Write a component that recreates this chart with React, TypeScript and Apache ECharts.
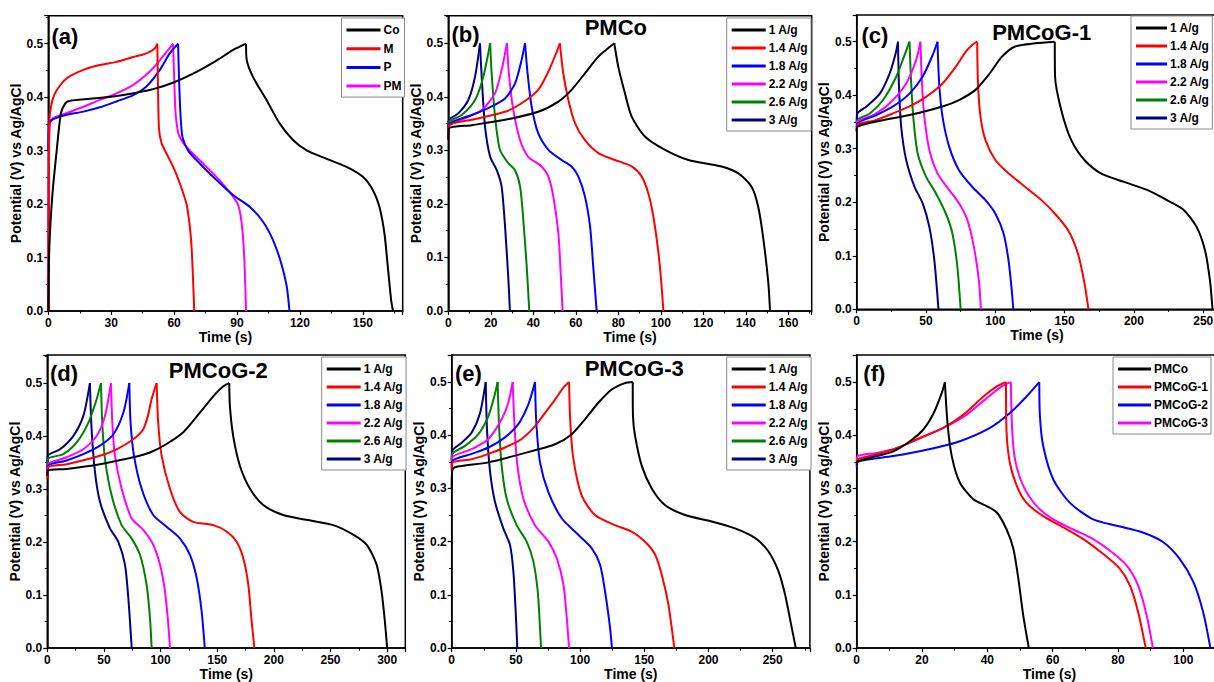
import React, { useEffect, useRef } from "react";
import * as echarts from "echarts";

type Pt = [number, number];

// ---------- Panel (a) ----------
const aCo: Pt[] = [[0,0],[0.5,0.12],[2,0.22],[4,0.3],[6,0.37],[8,0.388],[10,0.393],[20,0.397],[30,0.401],[40,0.407],[50,0.415],[60,0.428],[70,0.446],[80,0.468],[88,0.488],[94.3,0.5],[94.6,0.47],[97.6,0.438],[104,0.395],[110.3,0.351],[116.7,0.32],[123,0.301],[132.5,0.285],[142,0.27],[150,0.251],[154.8,0.226],[157.9,0.195],[160.3,0.145],[161.9,0.083],[163.5,0.02],[164.4,0]];
const aM: Pt[] = [[0,0],[0.15,0.2],[0.4,0.35],[1,0.375],[2,0.395],[4,0.413],[8.7,0.435],[16.7,0.451],[24.6,0.46],[32.5,0.466],[40.5,0.475],[46.8,0.482],[50.8,0.491],[52,0.5],[52.3,0.42],[52.8,0.34],[54,0.314],[56.3,0.295],[59.5,0.27],[62.7,0.239],[65.9,0.2],[67.5,0.158],[68.4,0.114],[69.1,0.052],[69.6,0]];
const aP: Pt[] = [[0,0.3],[0.3,0.35],[2,0.358],[8.7,0.367],[16.7,0.373],[24.6,0.381],[32.5,0.392],[40.5,0.404],[46.8,0.42],[53.2,0.451],[57.9,0.482],[61.9,0.5],[62.3,0.44],[63,0.37],[64,0.325],[66.7,0.3],[72.2,0.276],[80.2,0.245],[88.1,0.217],[96,0.195],[102.4,0.167],[107.1,0.133],[111.1,0.089],[113.7,0.046],[115,0]];
const aPM: Pt[] = [[0,0.02],[0.3,0.3],[1,0.355],[3,0.362],[8.7,0.37],[16.7,0.382],[24.6,0.395],[32.5,0.407],[40.5,0.423],[48.4,0.448],[53.2,0.469],[57.1,0.488],[59.5,0.5],[60,0.44],[60.7,0.37],[62.2,0.33],[65.9,0.307],[72.2,0.282],[80.2,0.251],[88.1,0.214],[90.8,0.195],[92.4,0.158],[93.5,0.095],[94.3,0]];

// ---------- Panel (b) PMCo ----------
const b1: Pt[] = [[0,0.32],[0.3,0.341],[11,0.347],[26.7,0.357],[42.3,0.372],[51.8,0.391],[58,0.413],[64.3,0.444],[70.6,0.475],[75.3,0.491],[78.1,0.5],[80,0.456],[83.1,0.407],[86.3,0.363],[92.5,0.326],[102,0.301],[113,0.282],[128.6,0.27],[136.5,0.257],[142.7,0.232],[145.8,0.195],[148.3,0.133],[150.6,0.052],[151.4,0]];
const b14: Pt[] = [[0,0.32],[0.5,0.347],[11,0.357],[26.7,0.372],[34.5,0.388],[42.3,0.413],[47.1,0.447],[51,0.484],[52.5,0.5],[54.1,0.444],[56.5,0.394],[59.6,0.351],[64.3,0.319],[70.6,0.295],[78.4,0.282],[86.3,0.27],[91,0.251],[94.1,0.22],[96.5,0.176],[98.9,0.108],[100.4,0.045],[101.2,0]];
const b18: Pt[] = [[0,0.335],[0.5,0.35],[11,0.366],[18.8,0.379],[26.7,0.397],[31.4,0.425],[34.5,0.469],[36.1,0.5],[37.3,0.444],[39.2,0.382],[42.3,0.332],[47.1,0.301],[53.3,0.282],[58,0.27],[61.2,0.251],[64.3,0.214],[66.7,0.158],[68.2,0.083],[69.8,0]];
const b22: Pt[] = [[0,0.335],[0.5,0.347],[7.8,0.36],[15.7,0.375],[22,0.407],[25.1,0.45],[27.6,0.5],[28.5,0.444],[30.6,0.375],[33.8,0.319],[37.6,0.288],[43.9,0.27],[47.1,0.251],[49.4,0.214],[51.8,0.145],[52.9,0.07],[53.8,0]];
const b26: Pt[] = [[0,0.34],[0.5,0.354],[6.3,0.366],[12.6,0.394],[16.5,0.438],[19.7,0.5],[20.4,0.444],[22,0.363],[24.3,0.301],[28.2,0.276],[31.4,0.263],[33.8,0.232],[35.3,0.17],[36.9,0.083],[38.1,0]];
const b3: Pt[] = [[0,0.345],[0.3,0.357],[4.7,0.369],[9.4,0.394],[12.6,0.438],[14.9,0.5],[15.7,0.438],[17.3,0.344],[19.7,0.288],[22.8,0.263],[25.1,0.232],[26.7,0.158],[28.2,0.064],[29,0]];

// ---------- Panel (c) PMCoG-1 ----------
const c1: Pt[] = [[0,0.332],[0.5,0.341],[14.3,0.351],[38.1,0.363],[61.9,0.379],[73.8,0.391],[85.7,0.41],[95.2,0.438],[104.8,0.472],[114.3,0.491],[128.6,0.497],[142.9,0.5],[143.1,0.435],[147.6,0.372],[154.8,0.316],[164.3,0.279],[176.2,0.254],[192.9,0.238],[209.5,0.223],[223.8,0.204],[235.7,0.186],[245.2,0.154],[251.2,0.111],[254.8,0.055],[256.7,0]];
const c14: Pt[] = [[0,0.332],[0.5,0.344],[14.3,0.354],[26.2,0.366],[38.1,0.379],[50,0.397],[61.9,0.422],[71.4,0.453],[78.6,0.481],[83.3,0.494],[86.9,0.5],[87.5,0.422],[89.3,0.36],[92.9,0.316],[100,0.279],[109.5,0.254],[121.4,0.229],[133.3,0.204],[142.9,0.179],[152.4,0.148],[159.5,0.105],[164.3,0.049],[167.2,0]];
const c18: Pt[] = [[0,0.335],[0.5,0.347],[14.3,0.363],[26.2,0.379],[38.1,0.403],[47.6,0.435],[54.8,0.475],[58.3,0.5],[59.5,0.422],[61.9,0.36],[66.7,0.304],[73.8,0.26],[83.3,0.229],[92.9,0.204],[100,0.179],[105.9,0.142],[109.5,0.092],[111.7,0.04],[113,0]];
const c22: Pt[] = [[0,0.34],[0.5,0.351],[11.9,0.363],[23.8,0.385],[35.7,0.422],[42.9,0.466],[46,0.5],[47.1,0.422],[48.8,0.36],[52.4,0.298],[58.3,0.254],[66.7,0.223],[73.8,0.198],[79.8,0.167],[84.5,0.117],[88.1,0.055],[89.6,0]];
const c26: Pt[] = [[0,0.345],[0.5,0.354],[9.5,0.366],[19,0.391],[28.6,0.435],[34.5,0.475],[38.1,0.5],[39.3,0.422],[41,0.354],[44,0.291],[50,0.248],[57.1,0.217],[64.3,0.179],[69,0.142],[72.6,0.08],[75,0]];
const c3: Pt[] = [[0,0.35],[0.5,0.366],[7.1,0.379],[16.7,0.403],[23.8,0.441],[28.1,0.478],[29.8,0.5],[30.5,0.416],[32.1,0.341],[35.7,0.279],[41.7,0.229],[47.6,0.198],[52.4,0.154],[56,0.092],[59,0]];

// ---------- Panel (d) PMCoG-2 ----------
const d1: Pt[] = [[0,0.325],[0.5,0.335],[17,0.338],[46.5,0.347],[75.9,0.36],[90.6,0.369],[105.3,0.385],[120,0.407],[134.7,0.444],[146.5,0.475],[155.3,0.494],[160.6,0.5],[161.2,0.456],[164.1,0.4],[170,0.344],[178.8,0.301],[190.6,0.27],[208.2,0.251],[228.8,0.242],[252.4,0.232],[270,0.214],[281.8,0.195],[290.6,0.158],[295,0.108],[297.9,0.052],[300,0]];
const d14: Pt[] = [[0,0.32],[0.5,0.341],[17,0.347],[46.5,0.363],[61.2,0.375],[75.9,0.394],[84.7,0.413],[89,0.44],[92,0.469],[96.5,0.5],[97.9,0.425],[100.9,0.363],[108.2,0.301],[117,0.257],[128.8,0.238],[146.5,0.232],[158.2,0.22],[167,0.201],[172.9,0.17],[177.4,0.12],[180.3,0.052],[182.8,0]];
const d18: Pt[] = [[0,0.33],[0.5,0.344],[17,0.354],[31.8,0.366],[46.5,0.382],[58.2,0.403],[67.1,0.444],[72.4,0.5],[73.5,0.425],[76.5,0.363],[83.2,0.301],[93.5,0.251],[105.3,0.229],[117,0.207],[125.9,0.176],[131.8,0.133],[136.2,0.07],[139,0]];
const d22: Pt[] = [[0,0.335],[0.5,0.347],[17,0.36],[31.8,0.375],[43.5,0.4],[50.9,0.438],[56.2,0.5],[57.4,0.425],[59.7,0.363],[65.6,0.301],[74.4,0.245],[84.7,0.223],[93.5,0.195],[99.4,0.158],[103.8,0.108],[106.8,0.045],[108.3,0]];
const d26: Pt[] = [[0,0.34],[0.5,0.357],[14.1,0.366],[25.9,0.388],[36.2,0.425],[43.5,0.469],[47.4,0.5],[48.5,0.425],[50.9,0.357],[56.8,0.288],[65.6,0.232],[74.4,0.207],[81.8,0.176],[87.6,0.12],[90.6,0.058],[92.1,0]];
const d3: Pt[] = [[0,0.345],[0.5,0.363],[11.2,0.375],[22.9,0.4],[31.8,0.438],[37.6,0.5],[39.1,0.413],[42.1,0.332],[46.5,0.276],[55.3,0.226],[62.6,0.201],[68.5,0.158],[71.5,0.095],[74.5,0]];

// ---------- Panel (e) PMCoG-3 ----------
const e1: Pt[] = [[0,0.3],[0.5,0.334],[2.6,0.34],[28.6,0.349],[54.5,0.365],[80.5,0.383],[93.5,0.402],[103.8,0.43],[114.2,0.461],[124.6,0.486],[135,0.498],[141,0.5],[141.2,0.436],[142.8,0.399],[148,0.343],[155.8,0.3],[166.1,0.269],[181.7,0.25],[202.5,0.238],[220.7,0.225],[236.2,0.207],[246.6,0.182],[254.4,0.145],[259.6,0.101],[264.8,0.039],[268,0]];
const e14: Pt[] = [[0,0.334],[0.5,0.349],[15.6,0.355],[28.6,0.365],[41.5,0.377],[54.5,0.393],[64.9,0.417],[72.7,0.442],[80.5,0.467],[86.8,0.489],[91.4,0.5],[92.4,0.424],[94.8,0.355],[101.2,0.287],[111.6,0.25],[127.2,0.231],[140.2,0.219],[150.6,0.2],[158.4,0.176],[163.6,0.138],[168.7,0.083],[173.4,0]];
const e18: Pt[] = [[0,0.34],[0.5,0.352],[15.6,0.365],[28.6,0.377],[41.5,0.396],[51.9,0.421],[59.7,0.458],[64.9,0.5],[65.9,0.424],[68.8,0.349],[75.3,0.293],[85.7,0.244],[98.6,0.213],[109,0.188],[115.5,0.157],[119.4,0.107],[123.3,0.039],[124.8,0]];
const e22: Pt[] = [[0,0.345],[0.5,0.359],[15.6,0.374],[28.6,0.393],[38.9,0.43],[44.1,0.461],[47.5,0.5],[48.8,0.424],[50.9,0.349],[55.8,0.281],[64.9,0.231],[75.3,0.2],[81.8,0.169],[87,0.12],[89.6,0.058],[91.4,0]];
const e26: Pt[] = [[0,0.35],[0.5,0.365],[10.4,0.38],[20.8,0.402],[28.6,0.436],[33.2,0.473],[35.8,0.5],[36.9,0.417],[38.9,0.343],[42.8,0.281],[50.6,0.231],[58.4,0.2],[63.6,0.163],[67,0.107],[68.5,0.05],[69.6,0]];
const e3: Pt[] = [[0,0.355],[0.5,0.371],[7.8,0.386],[15.6,0.405],[22.1,0.442],[26.5,0.5],[27.5,0.411],[29.9,0.331],[33.7,0.275],[40.2,0.225],[45.4,0.194],[48,0.145],[49.8,0.07],[51.1,0]];

// ---------- Panel (f) comparison ----------
const fPMCo: Pt[] = [[0,0.345],[0.3,0.351],[6.1,0.361],[11.2,0.37],[16.3,0.389],[20.4,0.411],[23.5,0.441],[26,0.479],[27,0.5],[27.8,0.423],[29.1,0.361],[31.6,0.311],[35.7,0.28],[39.8,0.267],[42.9,0.255],[45.9,0.223],[48,0.186],[49.5,0.13],[51,0.061],[52.7,0]];
const fG1: Pt[] = [[0,0.345],[0.3,0.355],[6.1,0.364],[12.2,0.376],[19.4,0.395],[26.5,0.414],[32.7,0.439],[38.8,0.473],[42.9,0.492],[45.7,0.5],[45.9,0.404],[46.9,0.348],[49,0.305],[52,0.273],[57.1,0.248],[63.3,0.227],[69.4,0.205],[75.5,0.177],[80.6,0.149],[83.7,0.117],[86.2,0.067],[88.5,0]];
const fG2: Pt[] = [[0,0.34],[0.5,0.351],[11.2,0.361],[21.4,0.373],[31.6,0.389],[40.8,0.414],[46.9,0.442],[52,0.473],[55.9,0.5],[56.1,0.436],[57.1,0.38],[60.2,0.317],[65.3,0.273],[72.4,0.242],[79.6,0.23],[87.8,0.217],[93.9,0.199],[99,0.167],[103.1,0.124],[106.1,0.067],[108.3,0]];
const fG3: Pt[] = [[0,0.35],[0.3,0.361],[6.1,0.367],[12.2,0.376],[19.4,0.395],[26.5,0.414],[33.7,0.439],[39.8,0.47],[44.4,0.492],[47.2,0.5],[47.6,0.41],[48.5,0.354],[51,0.305],[55.1,0.267],[60.2,0.242],[66.3,0.223],[72.4,0.205],[77.6,0.183],[82.7,0.155],[86.2,0.117],[88.8,0.061],[90.7,0]];

// names / labels
const rateNames = ["1 A/g", "1.4 A/g", "1.8 A/g", "2.2 A/g", "2.6 A/g", "3 A/g"];
const aNames = ["Co", "M", "P", "PM"];
const fNames = ["PMCo", "PMCoG-1", "PMCoG-2", "PMCoG-3"];
const panelLabels = ["(a)", "(b)", "(c)", "(d)", "(e)", "(f)"];
const panelTitles = ["", "PMCo", "PMCoG-1", "PMCoG-2", "PMCoG-3", ""];
const xTitle = "Time (s)";
const yTitle = "Potential (V) vs Ag/AgCl";

const COLORS6 = ["#000000", "#ff0000", "#0000ff", "#ff00ff", "#008000", "#000080"];
const FONT = "'Liberation Sans', Arial, sans-serif";

type Panel = {
  grid: { left: number; top: number; width: number; height: number };
  xMax: number; xInt: number; yMax: number;
  names: string[]; curves: Pt[][];
  legend: { left: number; top: number; gap: number; itemWidth: number };
  label: [number, number]; title: [number, number];
  yGap: number;
};

const panels: Panel[] = [
  { grid: { left: 48.3, top: 15.7, width: 354.4, height: 295.3 }, xMax: 169, xInt: 30, yMax: 0.5524,
    names: aNames, curves: [aCo, aM, aP, aPM], legend: { left: 341.5, top: 18, gap: 4.7, itemWidth: 34 },
    label: [51.5, 36], title: [0, 0], yGap: 23 },
  { grid: { left: 448.3, top: 15.7, width: 363.4, height: 295.3 }, xMax: 171, xInt: 20, yMax: 0.5515,
    names: rateNames, curves: [b1, b14, b18, b22, b26, b3], legend: { left: 726.7, top: 18, gap: 4, itemWidth: 34 },
    label: [451.5, 34], title: [615.8, 27], yGap: 21 },
  { grid: { left: 856.7, top: 15, width: 360.4, height: 294.3 }, xMax: 260, xInt: 50, yMax: 0.5499,
    names: rateNames, curves: [c1, c14, c18, c22, c26, c3], legend: { left: 1131, top: 16, gap: 4, itemWidth: 31 },
    label: [861.5, 35], title: [1041.7, 32], yGap: 22 },
  { grid: { left: 47.3, top: 355, width: 358, height: 296 }, xMax: 316, xInt: 50, yMax: 0.5529,
    names: rateNames, curves: [d1, d14, d18, d22, d26, d3], legend: { left: 321.7, top: 357, gap: 4, itemWidth: 34 },
    label: [50, 373], title: [218.3, 370], yGap: 22 },
  { grid: { left: 451.7, top: 355, width: 358.2, height: 296 }, xMax: 279, xInt: 50, yMax: 0.5508,
    names: rateNames, curves: [e1, e14, e18, e22, e26, e3], legend: { left: 726.7, top: 357, gap: 4, itemWidth: 34 },
    label: [455, 373], title: [634.2, 368.5], yGap: 25 },
  { grid: { left: 856.7, top: 355, width: 385.4, height: 294.3 }, xMax: 118, xInt: 20, yMax: 0.5511,
    names: fNames, curves: [fPMCo, fG1, fG2, fG3], legend: { left: 1113, top: 357, gap: 4, itemWidth: 33 },
    label: [863.3, 373], title: [0, 0], yGap: 23 },
];

function splitAtPeak(d: Pt[]): [Pt[], Pt[]] {
  let k = 0;
  for (let i = 1; i < d.length; i++) if (d[i][1] > d[k][1]) k = i;
  return [d.slice(0, k + 1), d.slice(k)];
}

function buildOption() {
  const grid: any[] = [];
  const xAxis: any[] = [];
  const yAxis: any[] = [];
  const series: any[] = [];
  const legend: any[] = [];
  const graphic: any[] = [];
  const axisCommon = {
    axisLine: { show: true, onZero: false, lineStyle: { color: "#000", width: 1.5 } },
    axisTick: { show: true, inside: false, length: 4, lineStyle: { color: "#000", width: 1.2 } },
    minorTick: { show: true, splitNumber: 2, length: 2.5, lineStyle: { color: "#000", width: 1 } },
    splitLine: { show: false },
  };
  panels.forEach((p, i) => {
    grid.push({ ...p.grid, show: true, borderColor: "#000", borderWidth: 1.5, backgroundColor: "transparent", containLabel: false });
    xAxis.push({
      type: "value", gridIndex: i, min: 0, max: p.xMax, interval: p.xInt, ...axisCommon,
      axisLabel: { color: "#000", fontSize: 12, fontWeight: "bold", fontFamily: FONT, margin: 6, showMaxLabel: false },
      name: xTitle, nameLocation: "middle", nameGap: 14,
      nameTextStyle: { color: "#000", fontSize: 14, fontWeight: "bold", fontFamily: FONT, verticalAlign: "top" },
    });
    yAxis.push({
      type: "value", gridIndex: i, min: 0, max: p.yMax, interval: 0.1, ...axisCommon,
      axisLabel: { color: "#000", fontSize: 12, fontWeight: "bold", fontFamily: FONT, margin: 5, showMaxLabel: false,
        formatter: (v: number) => v.toFixed(1) },
      name: yTitle, nameLocation: "middle", nameGap: p.yGap,
      nameTextStyle: { color: "#000", fontSize: 14, fontWeight: "bold", fontFamily: FONT },
    });
    p.curves.forEach((c, j) => {
      const color = COLORS6[j];
      const parts = splitAtPeak(c);
      parts.forEach((part) => {
        series.push({
          type: "line", name: p.names[j], xAxisIndex: i, yAxisIndex: i, data: part,
          showSymbol: false, symbol: "none", smooth: 0.25, clip: true,
          lineStyle: { color, width: 2 }, itemStyle: { color }, emphasis: { disabled: true },
          z: 10 - j,
        });
      });
    });
    legend.push({
      data: p.names, orient: "vertical", left: p.legend.left, top: p.legend.top,
      icon: "rect", itemWidth: p.legend.itemWidth, itemHeight: 3, itemGap: p.legend.gap,
      padding: [5, 3, 4, 5], borderColor: "#8a8a8a", borderWidth: 1, backgroundColor: "#fff",
      selectedMode: false,
      textStyle: { color: "#000", fontSize: 12, fontWeight: "bold", fontFamily: FONT, lineHeight: 14, padding: [0, 0, 0, -2] },
    });
    graphic.push({
      type: "text", x: p.label[0], y: p.label[1], z: 100,
      style: { text: panelLabels[i], fill: "#000", font: `bold 22px ${FONT}`, align: "left", verticalAlign: "middle" },
    });
    if (panelTitles[i]) {
      graphic.push({
        type: "text", x: p.title[0], y: p.title[1], z: 100,
        style: { text: panelTitles[i], fill: "#000", font: `bold 22px ${FONT}`, align: "center", verticalAlign: "middle" },
      });
    }
  });
  return {
    animation: false,
    backgroundColor: "#fff",
    textStyle: { fontFamily: FONT },
    grid, xAxis, yAxis, series, legend, graphic,
  };
}

export default function App() {
  const ref = useRef<HTMLDivElement>(null);
  useEffect(() => {
    if (!ref.current) return;
    const chart = echarts.init(ref.current, undefined, { renderer: "svg" });
    chart.setOption(buildOption() as any);
    return () => chart.dispose();
  }, []);
  return (
    <div style={{ position: "fixed", left: 0, top: 0, width: 1214, height: 682, overflow: "hidden", background: "#fff" }}>
      <div ref={ref} style={{ width: 1260, height: 682 }} />
    </div>
  );
}
